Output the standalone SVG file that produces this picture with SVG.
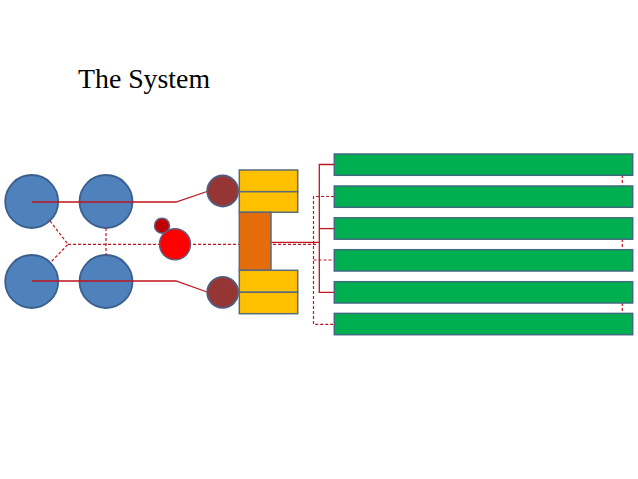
<svg xmlns="http://www.w3.org/2000/svg" width="638" height="479" viewBox="0 0 638 479">
<style>
.blue{fill:#4F81BD;stroke:#3A5F8C;stroke-width:1.8}
.maroon{fill:#963634;stroke:#4F5E7F;stroke-width:1.8}
.yel{fill:#FFC000;stroke:#5A6B7A;stroke-width:1.5}
.org{fill:#E46C0A;stroke:#5A6B7A;stroke-width:1.5}
.grn{fill:#00B050;stroke:#3E6B7F;stroke-width:1.5}
.ln{fill:none;stroke:#C0141E;stroke-width:1.3}
.dl{fill:none;stroke:#C0141E;stroke-width:1.2;stroke-dasharray:3 2}
</style>
<rect width="638" height="479" fill="#fff"/>
<text x="78" y="88" font-family="Liberation Serif, Times New Roman, serif" font-size="27.8" fill="#000">The System</text>
<g id="circle-tl"><circle class="blue" cx="31.7" cy="201.5" r="26.5"/></g>
<g id="circle-tr"><circle class="blue" cx="106" cy="201.5" r="26.5"/></g>
<g id="circle-bl"><circle class="blue" cx="31.7" cy="281.5" r="26.5"/></g>
<g id="circle-br"><circle class="blue" cx="106" cy="281.5" r="26.5"/></g>
<g id="connectors">
<polyline class="ln" points="32,202 176,202 207,191.5"/>
<polyline class="ln" points="32,281 176,281 207,292"/>
<polyline class="dl" points="50,221 68,244.3 51,262"/>
<line class="dl" x1="68" y1="244.3" x2="318" y2="244.3"/>
<line class="dl" x1="106" y1="228" x2="106" y2="255"/>
<line class="ln" x1="271" y1="242.3" x2="319.3" y2="242.3"/>
<polyline class="ln" points="334,164.5 319.3,164.5 319.3,292.3 334,292.3"/>
<line class="ln" x1="319.3" y1="228.6" x2="334" y2="228.6"/>
<polyline class="dl" points="334,196.5 313.5,196.5 313.5,324.3 334,324.3"/>
<line class="dl" x1="313.5" y1="260" x2="334" y2="260"/>
<line class="dl" x1="622.3" y1="175" x2="622.3" y2="186"/>
<line class="dl" x1="622.3" y1="239" x2="622.3" y2="250"/>
<line class="dl" x1="622.3" y1="303" x2="622.3" y2="313.5"/>
</g>
<g id="red-small"><circle cx="162" cy="225.7" r="7.5" fill="#C00000" stroke="#5E5E80" stroke-width="1.5"/></g>
<g id="red-big"><circle cx="175" cy="244.3" r="15.5" fill="#FF0000" stroke="#5E5E80" stroke-width="1.5"/></g>
<g id="maroon-top"><circle class="maroon" cx="222.7" cy="191" r="15.5"/></g>
<g id="maroon-bottom"><circle class="maroon" cx="222.7" cy="292.3" r="15.5"/></g>
<g id="yellow-1"><rect class="yel" x="239.3" y="170" width="58.4" height="21.7"/></g>
<g id="yellow-2"><rect class="yel" x="239.3" y="191.7" width="58.4" height="20.6"/></g>
<g id="orange"><rect class="org" x="239.3" y="212.3" width="31.7" height="58"/></g>
<g id="yellow-3"><rect class="yel" x="239.3" y="270.3" width="58.4" height="22"/></g>
<g id="yellow-4"><rect class="yel" x="239.3" y="292.3" width="58.4" height="21.4"/></g>
<g id="green-1"><rect class="grn" x="334.3" y="154" width="298.4" height="21.3"/></g>
<g id="green-2"><rect class="grn" x="334.3" y="186" width="298.4" height="21.3"/></g>
<g id="green-3"><rect class="grn" x="334.3" y="217.8" width="298.4" height="21.4"/></g>
<g id="green-4"><rect class="grn" x="334.3" y="249.7" width="298.4" height="21.3"/></g>
<g id="green-5"><rect class="grn" x="334.3" y="281.7" width="298.4" height="21.3"/></g>
<g id="green-6"><rect class="grn" x="334.3" y="313.4" width="298.4" height="21.3"/></g>
</svg>
